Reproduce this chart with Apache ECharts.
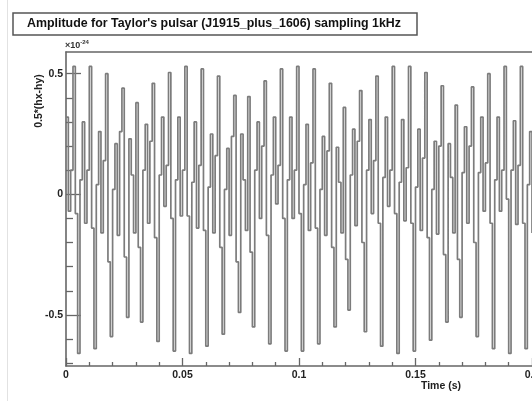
<!DOCTYPE html>
<html>
<head>
<meta charset="utf-8">
<script src="https://cdn.jsdelivr.net/npm/echarts@6/dist/echarts.min.js"></script>
<style>
html,body{margin:0;padding:0;background:#fff;}
#chart{width:532px;height:401px;}
</style>
</head>
<body>
<div id="chart"></div>
<script>
// sampling step (1 kHz)
const sampleStep = 0.001;
// amplitude samples, units of 1e-24, one per millisecond from t = 0
const amplitude = [
  0.32, -0.07, 0.10,
  0.53, -0.08, -0.66, 0.06, 0.30, -0.12, 0.10,
  0.53, -0.14, -0.64, 0.04, 0.26, -0.16, 0.14,
  0.50, -0.28, -0.59, 0.02, 0.21, -0.17, 0.26,
  0.44, -0.26, -0.51, 0.23, 0.08, -0.16,
  0.38, -0.22, -0.53, 0.10, 0.29, -0.12, 0.22,
  0.46, -0.18, -0.61, 0.08, 0.32, -0.05, 0.12,
  0.505, -0.10, -0.65, 0.06, 0.32, -0.09, 0.10,
  0.53, -0.09, -0.66, 0.05, 0.30, -0.14, 0.12,
  0.52, -0.15, -0.63, 0.03, 0.25, -0.16, 0.16,
  0.49, -0.22, -0.58, 0.02, 0.19, -0.17, 0.24,
  0.41, -0.28, -0.49, 0.25, 0.06, -0.15,
  0.405, -0.24, -0.55, 0.10, 0.30, -0.10, 0.20,
  0.47, -0.17, -0.62, 0.08, 0.32, -0.04, 0.12,
  0.52, -0.10, -0.65, 0.06, 0.32, -0.10, 0.10,
  0.53, -0.08, -0.65, 0.04, 0.29, -0.15, 0.13,
  0.52, -0.14, -0.62, 0.02, 0.24, -0.17, 0.18,
  0.46, -0.22, -0.55, 0.195, 0.05, -0.16,
  0.36, -0.27, -0.48, 0.08, 0.27, -0.13, 0.22,
  0.43, -0.20, -0.57, 0.10, 0.31, -0.08, 0.14,
  0.49, -0.12, -0.63, 0.07, 0.32, -0.05, 0.10,
  0.53, -0.08, -0.66, 0.05, 0.31, -0.11, 0.11,
  0.53, -0.12, -0.65, 0.03, 0.27, -0.15, 0.15,
  0.505, -0.18, -0.605, 0.02, 0.22, -0.165, 0.20,
  0.45, -0.25, -0.53, 0.21, 0.07, -0.16,
  0.37, -0.27, -0.51, 0.09, 0.28, -0.12, 0.20,
  0.445, -0.20, -0.59, 0.09, 0.32, -0.07, 0.13,
  0.50, -0.12, -0.64, 0.06, 0.32, -0.07, 0.10,
  0.53, -0.02, -0.66, 0.10, 0.305, -0.125, 0.12,
  0.53, -0.12, -0.64, 0.04, 0.26, -0.16
];
const xTicks = [0, 0.05, 0.1, 0.15, 0.2];
const xMinorTicks = [0.01, 0.02, 0.03, 0.04, 0.06, 0.07, 0.08, 0.09, 0.11, 0.12, 0.13, 0.14, 0.16, 0.17, 0.18, 0.19];
const yTicks = [-0.5, 0, 0.5];
const yMinorTicks = [-0.7, -0.6, -0.4, -0.3, -0.2, -0.1, 0.1, 0.2, 0.3, 0.4];
const titleText = "Amplitude for Taylor's pulsar (J1915_plus_1606) sampling 1kHz";
const xTitle = "Time (s)";
const yTitle = "0.5*(hx-hy)";

const X_MIN = 0, X_MAX = 0.2, Y_MIN = -0.712, Y_MAX = 0.59;
const FONT = 'Liberation Sans, Arial, sans-serif';
const axisColor = '#666';

const seriesData = amplitude.map((v, i) => [i * sampleStep, v]);

const chart = echarts.init(document.getElementById('chart'), null, {renderer: 'canvas'});
chart.setOption({
  animation: false,
  backgroundColor: '#fff',
  grid: {left: 66, right: 0, top: 52, bottom: 35, containLabel: false, outerBoundsMode: 'none'},
  xAxis: [
    {
      type: 'value', min: X_MIN, max: X_MAX, position: 'bottom',
      axisLine: {show: true, onZero: false, lineStyle: {color: axisColor, width: 1.6}},
      axisTick: {show: true, inside: true, length: 8, customValues: xTicks, lineStyle: {color: axisColor, width: 1.3}},
      axisLabel: {show: true, customValues: xTicks, margin: 4, fontSize: 10.5, fontWeight: 'bold', color: '#222', fontFamily: FONT},
      splitLine: {show: false}
    },
    {
      type: 'value', min: X_MIN, max: X_MAX, position: 'bottom',
      axisLine: {show: false, onZero: false},
      axisTick: {show: true, inside: true, length: 4, customValues: xMinorTicks, lineStyle: {color: axisColor, width: 1.3}},
      axisLabel: {show: false},
      splitLine: {show: false}
    },
    {
      type: 'value', min: X_MIN, max: X_MAX, position: 'top',
      axisLine: {show: true, onZero: false, lineStyle: {color: axisColor, width: 1.6}},
      axisTick: {show: false}, axisLabel: {show: false}, splitLine: {show: false}
    }
  ],
  yAxis: [
    {
      type: 'value', min: Y_MIN, max: Y_MAX, position: 'left',
      axisLine: {show: true, onZero: false, lineStyle: {color: axisColor, width: 1.6}},
      axisTick: {show: true, inside: true, length: 15, customValues: yTicks, lineStyle: {color: axisColor, width: 1.3}},
      axisLabel: {show: true, customValues: yTicks, margin: 3, fontSize: 10.5, fontWeight: 'bold', color: '#222', fontFamily: FONT},
      splitLine: {show: false}
    },
    {
      type: 'value', min: Y_MIN, max: Y_MAX, position: 'left',
      axisLine: {show: false, onZero: false},
      axisTick: {show: true, inside: true, length: 7, customValues: yMinorTicks, lineStyle: {color: axisColor, width: 1.3}},
      axisLabel: {show: false},
      splitLine: {show: false}
    }
  ],
  series: [
    {
      type: 'line', step: 'end', data: seriesData,
      xAxisIndex: 0, yAxisIndex: 0,
      showSymbol: false, symbol: 'none',
      lineStyle: {color: '#7c7c7c', width: 1.7},
      clip: true, silent: true
    }
  ],
  graphic: [
    {type: 'line', shape: {x1: 7.5, y1: 0, x2: 7.5, y2: 401}, style: {stroke: '#e2e2e2', lineWidth: 1}, silent: true},
    {type: 'rect', shape: {x: 13, y: 13, width: 404, height: 22}, style: {fill: '#fff', stroke: '#555', lineWidth: 1.5}, silent: true},
    {type: 'text', x: 214, y: 24, style: {text: titleText, font: 'bold 12.4px ' + FONT, fill: '#111', textAlign: 'center', textVerticalAlign: 'middle'}, silent: true},
    {type: 'text', x: 65, y: 50, style: {text: '{b|×10}{s|-24}', rich: {b: {font: 'bold 9px ' + FONT, fill: '#333', verticalAlign: 'bottom'}, s: {font: 'bold 6px ' + FONT, fill: '#333', verticalAlign: 'top', padding: [0,0,5,0]}}, textAlign: 'left', textVerticalAlign: 'bottom'}, silent: true},
    {type: 'text', x: 441, y: 386, style: {text: xTitle, font: 'bold 10.5px ' + FONT, fill: '#222', textAlign: 'center', textVerticalAlign: 'middle'}, silent: true},
    {type: 'text', x: 39, y: 101, rotation: Math.PI / 2, style: {text: yTitle, font: 'bold 10.5px ' + FONT, fill: '#222', textAlign: 'center', textVerticalAlign: 'middle'}, silent: true}
  ]
});
</script>
</body>
</html>
